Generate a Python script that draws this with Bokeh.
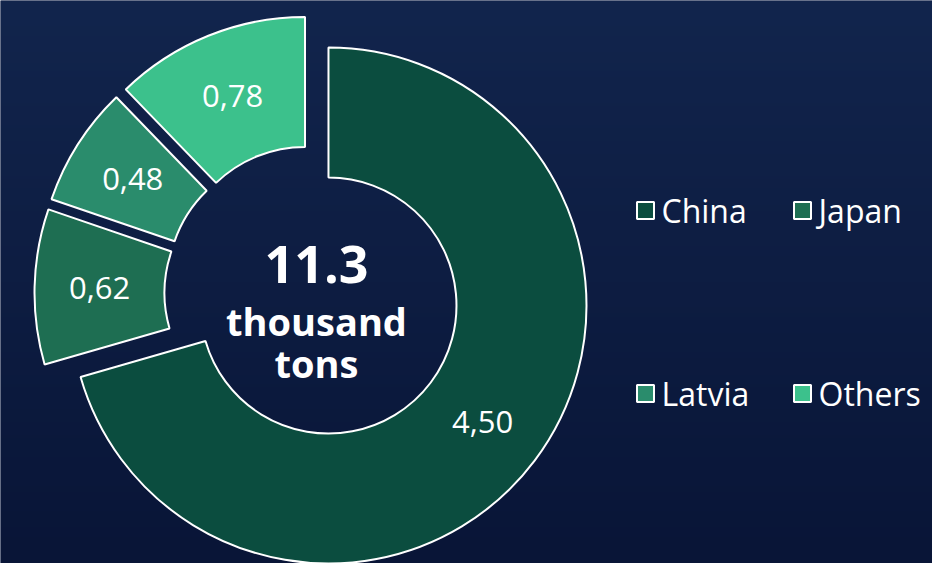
import numpy as np
from bokeh.plotting import figure
from bokeh.models import Range1d, ColumnDataSource
from bokeh.core.properties import value
from bokeh.embed import file_html
from bokeh.resources import INLINE

# ---- data ----
countries = ["China", "Japan", "Latvia", "Others"]
volumes = [4.50, 0.62, 0.48, 0.78]
colors = ["#0b4d3f", "#1e6e52", "#2a8c6c", "#3cc18c"]
total_value = "11.3"
total_unit = ["thousand", "tons"]

W, H = 932, 563
FONT = "Open Sans"

p = figure(width=W, height=H, x_range=Range1d(0, W), y_range=Range1d(0, H),
           output_backend="svg", toolbar_location=None,
           x_axis_type=None, y_axis_type=None, min_border=0,
           outline_line_color=None)
p.grid.visible = False
p.background_fill_color = "#0e1d44"
p.border_fill_color = "#0e1d44"

# background vertical gradient
n = H
img = np.empty((n, 1), dtype=np.uint32)
view = img.view(dtype=np.uint8).reshape((n, 1, 4))
t = np.linspace(0, 1, n)  # 0 bottom -> 1 top
top = np.array([18, 37, 77])
bot = np.array([9, 21, 55])
for k in range(3):
    view[:, 0, k] = (bot[k] + (top[k] - bot[k]) * t).astype(np.uint8)
view[:, 0, 3] = 255
p.image_rgba(image=[img], x=0, y=0, dw=W, dh=H)

# ---- donut ----
vals = np.array(volumes, dtype=float)
frac = vals / vals.sum()
ends = np.cumsum(frac) * 360.0
starts = ends - frac * 360.0
mids = (starts + ends) / 2.0

cx, cy = 312.0, H - 293.0
offset = 20.0
r_in, r_out = 128.0, 258.0

th_s = np.radians(90 - starts)
th_e = np.radians(90 - ends)
th_m = np.radians(90 - mids)
xs = cx + offset * np.cos(th_m)
ys = cy + offset * np.sin(th_m)

src = ColumnDataSource(dict(x=xs, y=ys, start=th_s, end=th_e, color=colors,
                            name=countries))
p.annular_wedge(x="x", y="y", inner_radius=r_in, outer_radius=r_out,
                start_angle="start", end_angle="end", direction="clock",
                fill_color="color", line_color="white", line_width=2,
                source=src)

r_lab = (r_in + r_out) / 2.0
labels = [f"{v:.2f}".replace(".", ",") for v in volumes]
lsrc = ColumnDataSource(dict(x=xs + r_lab * np.cos(th_m),
                             y=ys + r_lab * np.sin(th_m),
                             text=labels))
p.text(x="x", y="y", text="text", source=lsrc, text_align="center",
       text_baseline="middle", text_color="white", text_font_size="31px",
       text_font=value(FONT))

# ---- center text ----
p.text(x=[cx + 4], y=[H - 264], text=[total_value], text_align="center",
       text_baseline="middle", text_color="white", text_font_size="52px",
       text_font_style="bold", text_font=value(FONT))
p.text(x=[cx + 4, cx + 4], y=[H - 320, H - 362], text=total_unit,
       text_align="center", text_baseline="middle", text_color="white",
       text_font_size="38px", text_font_style="bold", text_font=value(FONT))

# ---- legend (2 x 2) ----
col_x = [645, 802]
row_y = [H - 210, H - 393]
mx = [col_x[i % 2] for i in range(len(countries))]
my = [row_y[i // 2] for i in range(len(countries))]
lgsrc = ColumnDataSource(dict(x=mx, y=my, tx=[m + 16 for m in mx],
                              color=colors, text=countries))
p.rect(x="x", y="y", width=17, height=17, fill_color="color",
       line_color="white", line_width=2, source=lgsrc)
p.text(x="tx", y="y", text="text", source=lgsrc, text_align="left",
       text_baseline="middle", text_color="white", text_font_size="32px",
       text_font=value(FONT))

open("out.html", "w").write(file_html(p, INLINE))
